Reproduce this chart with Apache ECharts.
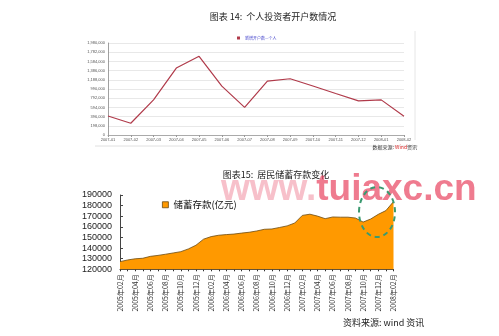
<!DOCTYPE html>
<html><head><meta charset="utf-8">
<script src="https://cdn.jsdelivr.net/npm/echarts@6/dist/echarts.min.js"></script>
<style>html,body{margin:0;padding:0;background:#fff}#c{width:499px;height:336px}</style>
</head><body><div id="c"></div>
<script>
// ---- Chart 14: 个人投资者开户数 ----
const topMonths = ['2007-01','2007-02','2007-03','2007-04','2007-05','2007-06','2007-07','2007-08','2007-09','2007-10','2007-11','2007-12','2008-01','2008-02'];
const topValues = [410000,253000,756000,1440000,1693000,1051000,594000,1160000,1210000,1055000,893000,735000,756000,404000];
const topSeriesName = '新增开户数—个人';
const topYMax = 1980000;
const topYStep = 198000;

// ---- Chart 15: 居民储蓄存款 ----
const bottomMonths = ['2005年02月','2005年03月','2005年04月','2005年05月','2005年06月','2005年07月','2005年08月','2005年09月','2005年10月','2005年11月','2005年12月',
  '2006年01月','2006年02月','2006年03月','2006年04月','2006年05月','2006年06月','2006年07月','2006年08月','2006年09月','2006年10月','2006年11月','2006年12月',
  '2007年01月','2007年02月','2007年03月','2007年04月','2007年05月','2007年06月','2007年07月','2007年08月','2007年09月','2007年10月','2007年11月','2007年12月',
  '2008年01月','2008年02月'];
const savingsValues = [127200,128800,129900,130400,132200,133100,134200,135400,136600,139200,142700,
  148400,150800,152100,152700,153200,154100,154900,156100,157700,158000,159400,160900,
  163600,170800,171900,170100,167700,169300,169100,169100,168300,164500,167400,171800,
  175300,183800];
const savingsName = '储蓄存款(亿元)';
const bottomYMin = 120000, bottomYMax = 190000, bottomYStep = 10000;

const cjk = 'Noto Sans CJK SC';
const chart = echarts.init(document.getElementById('c'), null, {renderer:'canvas'});
chart.setOption({
  backgroundColor:'#fff',
  animation:false,
  title:[
    {text:'图表 14:  个人投资者开户数情况', left:268, top:7, textAlign:'center',
     textStyle:{fontFamily:cjk, fontSize:9, fontWeight:'normal', color:'#222'}},
    {text:'图表15:  居民储蓄存款变化', left:271, top:165, textAlign:'center',
     textStyle:{fontFamily:cjk, fontSize:9, fontWeight:'normal', color:'#222'}}
  ],
  legend:[
    {data:[topSeriesName], left:237, top:36, itemWidth:3, itemHeight:3, itemGap:2, icon:'rect',
     textStyle:{fontSize:4, color:'#4444cc', fontFamily:cjk}, padding:0},
    {data:[{name:savingsName, icon:'rect'}], left:162, top:200, itemWidth:6, itemHeight:6, itemGap:3,
     itemStyle:{borderColor:'#6b4a10', borderWidth:0.8},
     textStyle:{fontSize:9.5, color:'#111', fontFamily:cjk}, padding:0}
  ],
  grid:[
    {left:108, right:95, top:43, bottom:201},
    {left:120, right:105.5, top:195, bottom:66.7}
  ],
  xAxis:[
    {type:'category', gridIndex:0, data:topMonths, boundaryGap:false,
     axisLine:{lineStyle:{color:'#999', width:0.8}}, axisTick:{show:true, length:2, lineStyle:{color:'#999'}},
     axisLabel:{fontSize:4, color:'#555', margin:3, interval:0}},
    {type:'category', gridIndex:1, data:bottomMonths, boundaryGap:false,
     axisLine:{lineStyle:{color:'#444', width:1}},
     axisTick:{show:true, interval:0, length:2, lineStyle:{color:'#333'}},
     axisLabel:{rotate:90, interval:1, fontSize:7, color:'#333', margin:5, fontFamily:cjk}}
  ],
  yAxis:[
    {type:'value', gridIndex:0, min:0, max:topYMax, interval:topYStep,
     axisLine:{show:true, lineStyle:{color:'#888', width:0.8}}, axisTick:{show:false},
     splitLine:{lineStyle:{color:'#e2e2e2', width:0.8}},
     axisLabel:{fontSize:4, color:'#555', margin:3, formatter:v=>v.toLocaleString('en-US')}},
    {type:'value', gridIndex:1, min:bottomYMin, max:bottomYMax, interval:bottomYStep,
     axisLine:{show:true, lineStyle:{color:'#444', width:1}},
     axisTick:{show:true, inside:true, length:3, lineStyle:{color:'#444'}},
     splitLine:{show:false},
     axisLabel:{fontSize:9, color:'#222', margin:8, fontFamily:'Liberation Sans', formatter:v=>String(v)}}
  ],
  series:[
    {name:topSeriesName, type:'line', xAxisIndex:0, yAxisIndex:0, data:topValues, symbol:'none',
     itemStyle:{color:'#b03a4a'}, lineStyle:{color:'#b03a4a', width:1.2}},
    {name:savingsName, type:'line', xAxisIndex:1, yAxisIndex:1, data:savingsValues, symbol:'none',
     itemStyle:{color:'#FF9900'}, lineStyle:{color:'#6b4a10', width:0.8},
     areaStyle:{color:'#FF9900', opacity:1, origin:'start'}}
  ],
  graphic:[
    {type:'line', shape:{x1:95, y1:146, x2:418, y2:146}, style:{stroke:'#e0e0e0', lineWidth:1}, silent:true},
    {type:'line', shape:{x1:415, y1:31, x2:415, y2:140}, style:{stroke:'#e6e6e6', lineWidth:1}, silent:true},
    {type:'text', right:82, top:145, style:{
      text:'{a|数据来源: }{b|Wind}{a|资讯}',
      rich:{a:{fontSize:5, fill:'#333', fontFamily:cjk}, b:{fontSize:5, fill:'#d22', fontFamily:cjk}}}},
    {type:'text', left:343, top:318, style:{text:'资料来源: wind 资讯', fontSize:9, fill:'#222', fontFamily:cjk}},
    {type:'text', left:221, top:171, z:100, style:{
      text:'{p|www.}{r|tuiaxc.cn}',
      rich:{p:{fontSize:37, fontWeight:'bold', fill:'rgba(240,130,150,0.5)', fontFamily:'Liberation Sans'},
            r:{fontSize:37, fontWeight:'bold', fill:'rgba(232,60,90,0.68)', fontFamily:'Liberation Sans'}}}},
    {type:'ellipse', z:101, shape:{cx:377, cy:212, rx:18, ry:25},
     style:{fill:'none', stroke:'#3a9a70', lineWidth:2, lineDash:[5,4]}}
  ]
});
</script></body></html>
